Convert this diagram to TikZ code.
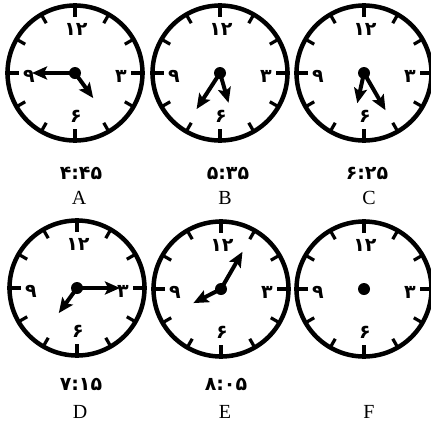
\documentclass[tikz,border=0pt]{standalone}
\usepackage{fontspec}
\setmainfont{Liberation Serif}
\newfontfamily\fadigits{DejaVu Sans Bold}
\usetikzlibrary{arrows.meta}
\tikzset{
  rim/.style={line width=4.5pt},
  tickmark/.style={line width=3.2pt},
  bigtick/.style={line width=3.6pt},
  dig/.style={inner sep=0pt, font=\fadigits\fontsize{19pt}{19pt}\selectfont},
  timelbl/.style={inner sep=0pt, font=\fadigits\fontsize{19pt}{19pt}\selectfont},
  letter/.style={inner sep=0pt, anchor=base, font=\fontsize{20pt}{20pt}\selectfont},
  hand/.style={line width=4pt, -{Stealth[length=15pt, width=13pt, inset=3pt]}},
  pics/face/.style={code={
    \coordinate (c) at (0,0);
    \draw[rim] (0,0) circle[radius=67.5pt];
    \foreach \k in {1,2,4,5,7,8,10,11} \draw[tickmark] (\k*30:67) -- (\k*30:57.5);
    \foreach \k in {0,3,6,9} \draw[bigtick] (\k*30:70) -- (\k*30:56);
    \node[dig] (d12) at (1,-44) {۱۲};
    \node[dig] (d3) at (46,3) {۳};
    \node[dig] (d6) at (1,43) {۶};
    \node[dig] (d9) at (-46,3) {۹};
    \fill (0,0) circle[radius=6pt];
  }},
  pics/clock/.style 2 args={code={
    \pic (f) {face};
    \coordinate (h) at (#1-90:31);
    \coordinate (m) at (#2-90:43);
    \draw[hand] (fc) -- (h);
    \draw[hand] (fc) -- (m);
  }}
}
\begin{document}
\begin{tikzpicture}[x=1pt,y=-1pt]
\useasboundingbox (0,0) rectangle (431,421);
\clip (0,0) rectangle (431,421);
\fill[white] (0,0) rectangle (431,421);
% row 1
\pic (A) at (75,73) {clock={144}{270}};
\pic (B) at (220,73) {clock={164}{213}};
\pic (C) at (364,73) {clock={192.5}{150}};
% row 2
\pic (D) at (77,288) {clock={216}{90}};
\pic (E) at (221,289) {clock={243}{30}};
\pic (F) at (364,289) {face};
% labels
\node[timelbl] (tA) at (81,173) {۴:۴۵};
\node[timelbl] (tB) at (228,173) {۵:۳۵};
\node[timelbl] (tC) at (367,173) {۶:۲۵};
\node[timelbl] (tD) at (81,384) {۷:۱۵};
\node[timelbl] (tE) at (226,384) {۸:۰۵};
\node[letter] (lA) at (79,204) {A};
\node[letter] (lB) at (225,204) {B};
\node[letter] (lC) at (369,204) {C};
\node[letter] (lD) at (80,418) {D};
\node[letter] (lE) at (225,418) {E};
\node[letter] (lF) at (369,418) {F};
\end{tikzpicture}
\end{document}
